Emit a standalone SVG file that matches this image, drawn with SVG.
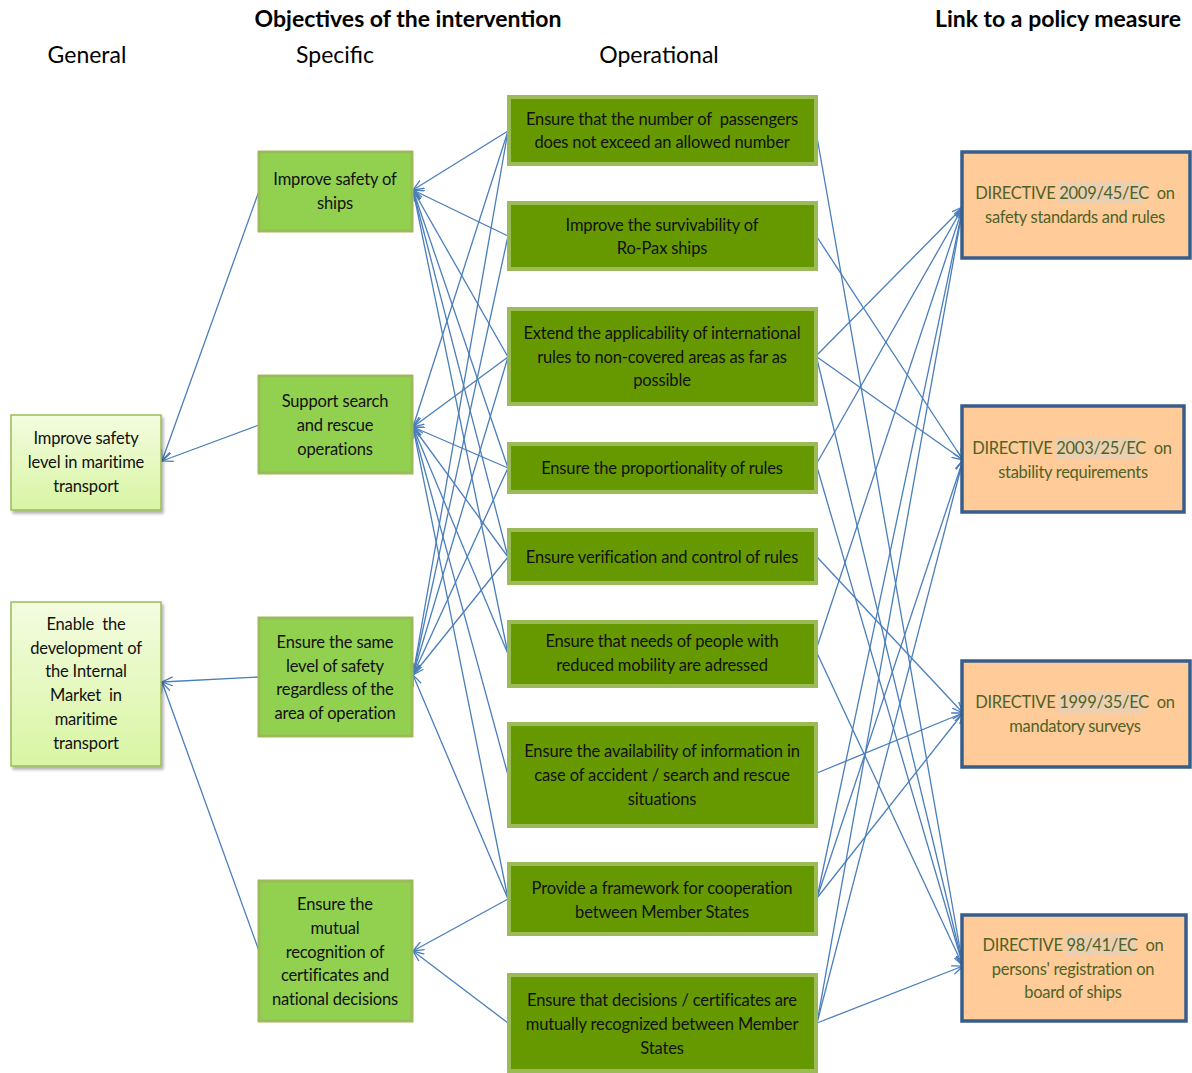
<svg xmlns="http://www.w3.org/2000/svg" width="1192" height="1073" viewBox="0 0 1192 1073">
<defs>
<style>
text{font-family:Lato,"Open Sans","Liberation Sans",sans-serif;text-anchor:middle;}
.hdr{font-size:23px;fill:#000;}
.ttl{font-size:23px;font-weight:bold;fill:#000;}
.t{font-size:16.5px;fill:#111;letter-spacing:-0.15px;}
.dt{font-size:16.5px;fill:#4F6228;letter-spacing:-0.3px;}
.gen{stroke:#9BBB59;stroke-width:1.5;fill:url(#gg);filter:url(#sh);}
.spec{fill:#92D050;stroke:#9BBB59;stroke-width:3;}
.op{fill:#669900;stroke:#9BBB59;stroke-width:4;}
.dir{fill:#FFCC99;stroke:#385D8A;stroke-width:3.5;}
.hl{fill:#EAD0B0;}
#edges line{stroke:#4A7EBB;stroke-width:1.3;marker-end:url(#ar);}
</style>
<linearGradient id="gg" x1="0" y1="0" x2="0" y2="1">
<stop offset="0" stop-color="#F3FCE0"/>
<stop offset="1" stop-color="#D8F5A2"/>
</linearGradient>
<filter id="sh" x="-10%" y="-10%" width="130%" height="130%">
<feDropShadow dx="2" dy="3" stdDeviation="1.5" flood-color="#000" flood-opacity="0.3"/>
</filter>
<marker id="ar" viewBox="0 0 12 10" refX="11" refY="5" markerWidth="12" markerHeight="10" markerUnits="userSpaceOnUse" orient="auto">
<path d="M0,0.5 L11,5 L0,9.5" fill="none" stroke="#4A7EBB" stroke-width="1.3"/>
</marker>
</defs>
<rect width="1192" height="1073" fill="#fff"/>

<text class="ttl" x="408" y="27">Objectives of the intervention</text>
<text class="ttl" x="1058" y="27">Link to a policy measure</text>
<text class="hdr" x="87" y="63">General</text>
<text class="hdr" x="335" y="63">Specific</text>
<text class="hdr" x="659" y="63">Operational</text>

<g id="edges">
<!-- specific to general -->
<line x1="259" y1="191" x2="162" y2="461"/>
<line x1="259" y1="425" x2="162" y2="461"/>
<line x1="259" y1="677" x2="162" y2="682"/>
<line x1="259" y1="951" x2="162" y2="682"/>
<!-- operational to specific -->
<line x1="508" y1="131" x2="413" y2="190"/>
<line x1="508" y1="131" x2="413" y2="427"/>
<line x1="508" y1="131" x2="413" y2="675"/>
<line x1="508" y1="236" x2="413" y2="190"/>
<line x1="508" y1="236" x2="413" y2="675"/>
<line x1="508" y1="357" x2="413" y2="190"/>
<line x1="508" y1="357" x2="413" y2="427"/>
<line x1="508" y1="357" x2="413" y2="675"/>
<line x1="508" y1="468" x2="413" y2="190"/>
<line x1="508" y1="468" x2="413" y2="427"/>
<line x1="508" y1="468" x2="413" y2="675"/>
<line x1="508" y1="557" x2="413" y2="190"/>
<line x1="508" y1="557" x2="413" y2="427"/>
<line x1="508" y1="557" x2="413" y2="675"/>
<line x1="508" y1="654" x2="413" y2="190"/>
<line x1="508" y1="654" x2="413" y2="427"/>
<line x1="508" y1="775" x2="413" y2="427"/>
<line x1="508" y1="899" x2="413" y2="427"/>
<line x1="508" y1="899" x2="413" y2="675"/>
<line x1="508" y1="899" x2="413" y2="951"/>
<line x1="508" y1="1023" x2="413" y2="951"/>
<!-- operational to directives -->
<line x1="817" y1="137" x2="963" y2="966"/>
<line x1="817" y1="237" x2="963" y2="460"/>
<line x1="817" y1="355" x2="963" y2="207"/>
<line x1="817" y1="357" x2="963" y2="460"/>
<line x1="817" y1="359" x2="963" y2="966"/>
<line x1="817" y1="463" x2="963" y2="207"/>
<line x1="817" y1="467" x2="963" y2="966"/>
<line x1="817" y1="557" x2="963" y2="713"/>
<line x1="817" y1="647" x2="963" y2="207"/>
<line x1="817" y1="653" x2="963" y2="966"/>
<line x1="817" y1="773" x2="963" y2="713"/>
<line x1="817" y1="898" x2="963" y2="207"/>
<line x1="817" y1="898" x2="963" y2="460"/>
<line x1="817" y1="898" x2="963" y2="713"/>
<line x1="817" y1="1023" x2="963" y2="207"/>
<line x1="817" y1="1023" x2="963" y2="460"/>
<line x1="817" y1="1023" x2="963" y2="966"/>
</g>

<g id="g1"><rect class="gen" x="11" y="415" width="150" height="95"/>
<text class="t" x="86" y="444">Improve safety</text><text class="t" x="86" y="468">level in maritime</text><text class="t" x="86" y="492">transport</text></g>
<g id="g2"><rect class="gen" x="11" y="602" width="150" height="164"/>
<text class="t" x="86" y="630" xml:space="preserve">Enable  the</text><text class="t" x="86" y="654">development of</text><text class="t" x="86" y="677">the Internal</text><text class="t" x="86" y="701" xml:space="preserve">Market  in</text><text class="t" x="86" y="725">maritime</text><text class="t" x="86" y="749">transport</text></g>

<g id="s1"><rect class="spec" x="259" y="152" width="153" height="79"/>
<text class="t" x="335" y="185">Improve safety of</text><text class="t" x="335" y="209">ships</text></g>
<g id="s2"><rect class="spec" x="259" y="376" width="153" height="97"/>
<text class="t" x="335" y="407">Support search</text><text class="t" x="335" y="431">and rescue</text><text class="t" x="335" y="455">operations</text></g>
<g id="s3"><rect class="spec" x="259" y="618" width="153" height="118"/>
<text class="t" x="335" y="648">Ensure the same</text><text class="t" x="335" y="672">level of safety</text><text class="t" x="335" y="695">regardless of the</text><text class="t" x="335" y="719">area of operation</text></g>
<g id="s4"><rect class="spec" x="259" y="881" width="153" height="140"/>
<text class="t" x="335" y="910">Ensure the</text><text class="t" x="335" y="934">mutual</text><text class="t" x="335" y="958">recognition of</text><text class="t" x="335" y="981">certificates and</text><text class="t" x="335" y="1005">national decisions</text></g>

<g id="o1"><rect class="op" x="509" y="97" width="307" height="67"/>
<text class="t" x="662" y="125" xml:space="preserve">Ensure that the number of  passengers</text><text class="t" x="662" y="148">does not exceed an allowed number</text></g>
<g id="o2"><rect class="op" x="509" y="203" width="307" height="66"/>
<text class="t" x="662" y="231">Improve the survivability of</text><text class="t" x="662" y="254">Ro-Pax ships</text></g>
<g id="o3"><rect class="op" x="509" y="309" width="307" height="95"/>
<text class="t" x="662" y="339">Extend the applicability of international</text><text class="t" x="662" y="363">rules to non-covered areas as far as</text><text class="t" x="662" y="386">possible</text></g>
<g id="o4"><rect class="op" x="509" y="444" width="307" height="48"/>
<text class="t" x="662" y="474">Ensure the proportionality of rules</text></g>
<g id="o5"><rect class="op" x="509" y="530" width="307" height="53"/>
<text class="t" x="662" y="563">Ensure verification and control of rules</text></g>
<g id="o6"><rect class="op" x="509" y="622" width="307" height="64"/>
<text class="t" x="662" y="647">Ensure that needs of people with</text><text class="t" x="662" y="671">reduced mobility are adressed</text></g>
<g id="o7"><rect class="op" x="509" y="724" width="307" height="102"/>
<text class="t" x="662" y="757">Ensure the availability of information in</text><text class="t" x="662" y="781">case of accident / search and rescue</text><text class="t" x="662" y="805">situations</text></g>
<g id="o8"><rect class="op" x="509" y="864" width="307" height="70"/>
<text class="t" x="662" y="894">Provide a framework for cooperation</text><text class="t" x="662" y="918">between Member States</text></g>
<g id="o9"><rect class="op" x="509" y="975" width="307" height="96"/>
<text class="t" x="662" y="1006">Ensure that decisions / certificates are</text><text class="t" x="662" y="1030">mutually recognized between Member</text><text class="t" x="662" y="1054">States</text></g>

<g id="d1"><rect class="dir" x="962" y="152" width="228" height="106"/>
<rect class="hl" x="1058" y="182" width="85" height="22"/>
<text class="dt" x="1075" y="199" xml:space="preserve">DIRECTIVE 2009/45/EC  on</text><text class="dt" x="1075" y="223">safety standards and rules</text></g>
<g id="d2"><rect class="dir" x="962" y="406" width="222" height="106"/>
<rect class="hl" x="1055" y="437" width="85" height="22"/>
<text class="dt" x="1072" y="454" xml:space="preserve">DIRECTIVE 2003/25/EC  on</text><text class="dt" x="1073" y="478">stability requirements</text></g>
<g id="d3"><rect class="dir" x="962" y="661" width="228" height="106"/>
<rect class="hl" x="1058" y="691" width="85" height="22"/>
<text class="dt" x="1075" y="708" xml:space="preserve">DIRECTIVE 1999/35/EC  on</text><text class="dt" x="1075" y="732">mandatory surveys</text></g>
<g id="d4"><rect class="dir" x="962" y="915" width="224" height="106"/>
<rect class="hl" x="1065" y="934" width="70" height="22"/>
<text class="dt" x="1073" y="951" xml:space="preserve">DIRECTIVE 98/41/EC  on</text><text class="dt" x="1073" y="975">persons' registration on</text><text class="dt" x="1073" y="998">board of ships</text></g>
</svg>
